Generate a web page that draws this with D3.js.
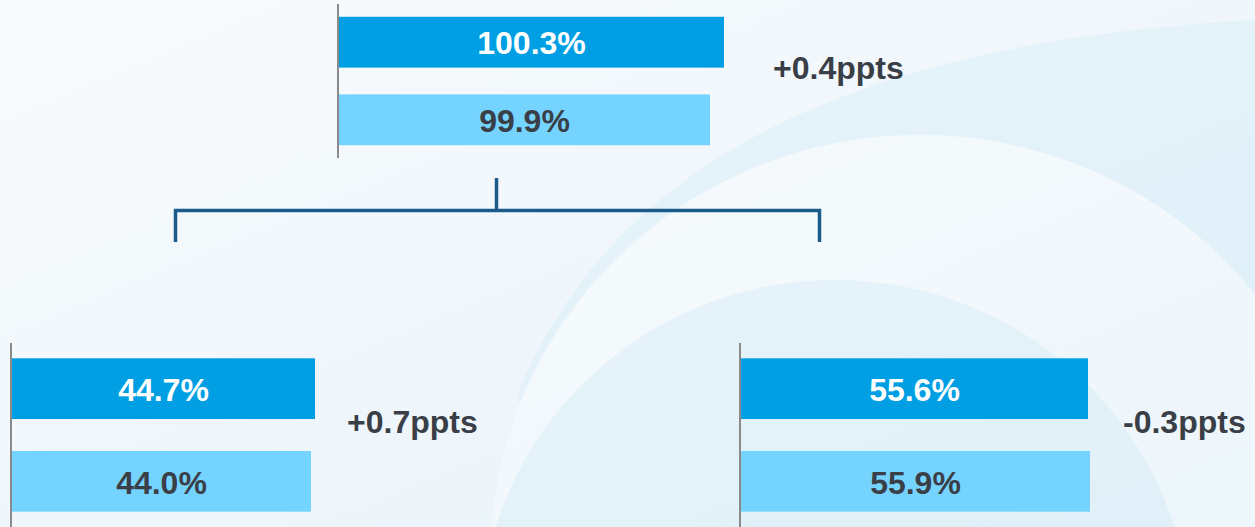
<!DOCTYPE html>
<html>
<head>
<meta charset="utf-8">
<script src="https://cdn.jsdelivr.net/npm/d3@7"></script>
<style>
  body { margin: 0; background: #f5f9fc; }
  svg { display: block; font-family: "Liberation Sans", Arial, sans-serif; font-weight: bold; }
</style>
</head>
<body>
<svg width="1255" height="527"></svg>
<script>
// data
const groups = ['total', 'left', 'right'];
const currentValues = [100.3, 44.7, 55.6];
const priorValues = [99.9, 44.0, 55.9];
const changeLabels = ['+0.4ppts', '+0.7ppts', '-0.3ppts'];
const series = ['current', 'prior'];

// layout for each group (pixel boxes, scale domains)
const layout = [
  {axisX: 338, x0: 339, x1: 724, lo: 89.3, hi: 100.3, y0: 4, y1: 158, labelX: 773},
  {axisX: 11, x0: 12, x1: 315, lo: -8.3, hi: 44.7, y0: 343, y1: 527, labelX: 347},
  {axisX: 740, x0: 741, x1: 1088, lo: 3.55, hi: 55.6, y0: 343, y1: 527, labelX: 1123}
];

const colors = {current: '#009fe3', prior: '#75d3ff'};
const textColors = {current: '#ffffff', prior: '#3a3f47'};
const fmt = v => d3.format('.1f')(v) + '%';

const svg = d3.select('svg');
const W = 1255, H = 527;

// background
const defs = svg.append('defs');
const grad = defs.append('linearGradient')
  .attr('id', 'bg')
  .attr('x1', 0).attr('y1', 0).attr('x2', 1).attr('y2', 1);
grad.append('stop').attr('offset', 0).attr('stop-color', '#f8fbfd');
grad.append('stop').attr('offset', 0.55).attr('stop-color', '#eff6fb');
grad.append('stop').attr('offset', 1).attr('stop-color', '#e4f2fa');
svg.append('rect').attr('width', W).attr('height', H).attr('fill', 'url(#bg)');

// pale swooshes
svg.append('path')
  .attr('d', 'M519,390 C600,200 790,45 1255,20 L1255,294 A430,425 0 0 0 519,405 Z')
  .attr('fill', '#d3ecf8').attr('opacity', 0.4);
svg.append('ellipse')
  .attr('cx', 920).attr('cy', 560).attr('rx', 430).attr('ry', 425)
  .attr('fill', '#ffffff').attr('opacity', 0.3);
svg.append('ellipse')
  .attr('cx', 835).attr('cy', 630).attr('rx', 355).attr('ry', 350)
  .attr('fill', '#cfe9f6').attr('opacity', 0.4);

// bracket
const bracket = svg.append('g')
  .attr('fill', 'none')
  .attr('stroke', '#1a5b8c')
  .attr('stroke-width', 3.5);
bracket.append('path').attr('d', 'M175.5,242 V210.5 H819.5 V242');
bracket.append('path').attr('d', 'M496.5,178 V210');

// bar groups
groups.forEach((g, i) => {
  const L = layout[i];
  const x = d3.scaleLinear().domain([L.lo, L.hi]).range([L.x0, L.x1]);
  const y = d3.scaleBand()
    .domain(series)
    .range([L.y0, L.y1])
    .paddingInner(0.345)
    .paddingOuter(0.165);
  const rows = [
    {key: 'current', value: currentValues[i]},
    {key: 'prior', value: priorValues[i]}
  ];
  const grp = svg.append('g').attr('class', 'group-' + g);

  grp.selectAll('rect.bar')
    .data(rows)
    .enter()
    .append('rect')
    .attr('class', 'bar')
    .attr('x', x(L.lo))
    .attr('y', d => y(d.key))
    .attr('width', d => x(d.value) - x(L.lo))
    .attr('height', y.bandwidth())
    .attr('fill', d => colors[d.key]);

  grp.selectAll('text.value')
    .data(rows)
    .enter()
    .append('text')
    .attr('class', 'value')
    .attr('x', d => (x(L.lo) + x(d.value)) / 2)
    .attr('y', d => y(d.key) + y.bandwidth() / 2)
    .attr('dy', '0.38em')
    .attr('text-anchor', 'middle')
    .attr('font-size', 32)
    .attr('fill', d => textColors[d.key])
    .text(d => fmt(d.value));

  // axis line
  grp.append('line')
    .attr('x1', L.axisX).attr('x2', L.axisX)
    .attr('y1', L.y0).attr('y2', L.y1)
    .attr('stroke', '#8a8a8a')
    .attr('stroke-width', 2);

  // change label
  grp.append('text')
    .attr('x', L.labelX)
    .attr('y', (L.y0 + L.y1) / 2 - 2)
    .attr('font-size', 32)
    .attr('fill', '#3a3f47')
    .text(changeLabels[i]);
});
</script>
</body>
</html>
